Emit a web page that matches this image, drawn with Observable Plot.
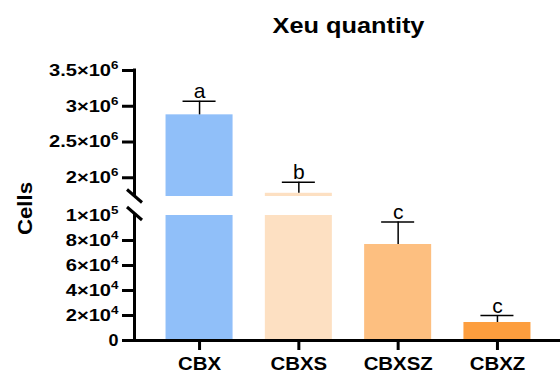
<!DOCTYPE html>
<html><head><meta charset="utf-8">
<script src="https://cdn.jsdelivr.net/npm/d3@7"></script>
<script src="https://cdn.jsdelivr.net/npm/@observablehq/plot@0.6"></script>
<style>body{margin:0;background:#fff}</style>
</head><body><div id="chart"></div>
<script>
const categories = ["CBX", "CBXS", "CBXSZ", "CBXZ"];
const means = [2880000, 1783000, 76800, 14400];
const errors = [190000, 155000, 18000, 5600];
const letters = ["a", "b", "c", "c"];
const colors = ["#90bff9", "#fde0c2", "#fdbf80", "#fd9e3e"];
const yTicks = [0, 20000, 40000, 60000, 80000, 100000, 2000000, 2500000, 3000000, 3500000];
const yTickLabels = ["0", "2×10^4", "4×10^4", "6×10^4", "8×10^4", "1×10^5", "2×10^6", "2.5×10^6", "3×10^6", "3.5×10^6"];
const breakLow = 100000, breakHigh = 1738000, yMax = 3500000;
const title = "Xeu quantity";
const yLabel = "Cells";

const rows = categories.map((c, i) => ({cat: c, mean: means[i], top: means[i] + errors[i], letter: letters[i]}));
const lowBars = rows.map(d => ({...d, y1: 0, y2: Math.min(d.mean, breakLow)}));
const highBars = rows.filter(d => d.mean > breakHigh).map(d => ({...d, y1: breakHigh, y2: d.mean}));

const font = "'Liberation Sans', Arial, sans-serif";
const plot = Plot.plot({
  width: 560, height: 374,
  marginLeft: 136, marginRight: 0, marginTop: 70, marginBottom: 34,
  style: {fontFamily: font, background: "#fff", color: "#000"},
  x: {domain: categories, range: [136, 560], paddingInner: 0.325, paddingOuter: 0.2975, align: 0.5, round: false},
  y: {type: "linear", domain: [0, breakLow, breakHigh, yMax], range: [340, 215, 196, 70]},
  color: {domain: categories, range: colors},
  marks: [
    Plot.barY(lowBars, {x: "cat", y1: "y1", y2: "y2", fill: "cat"}),
    Plot.barY(highBars, {x: "cat", y1: "y1", y2: "y2", fill: "cat"}),
    Plot.ruleX(rows, {x: "cat", y1: "mean", y2: "top", stroke: "#000", strokeWidth: 1.5}),
    Plot.tickY(rows, {x: "cat", y: "top", stroke: "#000", strokeWidth: 1.5, insetLeft: 17, insetRight: 17}),
    Plot.text(rows, {x: "cat", y: "top", text: "letter", lineAnchor: "bottom", dy: -3, fontSize: 21, fill: "#000"}),
    Plot.ruleY([0], {stroke: "#000", strokeWidth: 3}),
    Plot.axisY(yTicks.filter(v => v !== breakLow), {tickSize: 14, strokeWidth: 3, tickFormat: () => "", label: null}),
    Plot.axisY(yTicks, {tickSize: 0, tickPadding: 18, tickFormat: d => yTickLabels[yTicks.indexOf(d)], fontSize: 16.5, fontWeight: "bold", label: null}),
    Plot.axisX({tickSize: 10, tickPadding: 7, strokeWidth: 3, fontSize: 17.5, fontWeight: "bold", label: null}),
    Plot.text([title], {frameAnchor: "top", dy: -45, fontSize: 22.5, fontWeight: "bold", lineAnchor: "middle", fill: "#000"}),
    Plot.text([yLabel], {frameAnchor: "left", textAnchor: "middle", lineAnchor: "middle", rotate: -90, dx: -111, dy: 3, fontSize: 21, fontWeight: "bold", fill: "#000"})
  ]
});
document.getElementById("chart").appendChild(plot);

const svg = d3.select(plot);
const ys = plot.scale("y");
const Y = v => ys.apply(v);
const ax = 136 - 1.5;
const deco = svg.append("g").attr("stroke", "#000").attr("stroke-width", 3).attr("fill", "none");
const yTopBreak = Y(breakHigh), yLowBreak = Y(breakLow) - 1.5;
deco.append("line").attr("x1", ax).attr("x2", ax).attr("y1", Y(yMax) - 1.5).attr("y2", yTopBreak);
deco.append("line").attr("x1", ax).attr("x2", ax).attr("y1", yLowBreak).attr("y2", Y(0) + 1.5);
for (const cy of [yTopBreak, yLowBreak]) {
  deco.append("line").attr("x1", ax - 7.5).attr("x2", ax + 7.5).attr("y1", cy - 6.5).attr("y2", cy + 6.5);
}

function stretch(node, s) {
  const t = node.getAttribute("transform");
  if (t) node.setAttribute("transform", t + ` scale(${s},1)`);
  else {
    const x = +node.getAttribute("x") || 0, y = +node.getAttribute("y") || 0;
    node.setAttribute("x", 0); node.setAttribute("y", 0);
    node.setAttribute("transform", `translate(${x},${y}) scale(${s},1)`);
  }
}

svg.selectAll("text").each(function() {
  const txt = this.textContent;
  if (txt.includes("^")) {
    const [base, exp] = txt.split("^");
    const sel = d3.select(this);
    sel.text(null);
    sel.append("tspan").text(base);
    sel.append("tspan").attr("dy", "-7").attr("font-size", 11).text(exp);
    stretch(this, 1.22);
  } else if (txt === "0") {
    stretch(this, 1.09);
  } else if (categories.includes(txt)) {
    stretch(this, 1.165);
  } else if (txt === title) {
    stretch(this, 1.125);
  } else if (txt === yLabel) {
    stretch(this, 1.06);
  }
});
</script>
</body></html>
